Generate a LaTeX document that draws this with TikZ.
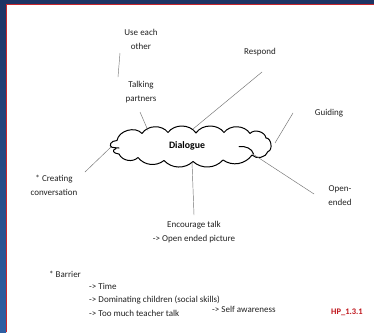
\documentclass[tikz,border=0pt]{standalone}
\usepackage{fontspec}
\setmainfont{Carlito}
\definecolor{navytop}{HTML}{1D3464}
\definecolor{navybot}{HTML}{2E5FA3}
\definecolor{edgered}{HTML}{C8262C}
\definecolor{labelred}{HTML}{C0161C}
\definecolor{inkgray}{HTML}{222222}
\tikzset{
  lbl/.style={font=\fontsize{9}{13.5}\selectfont, text=inkgray, align=center, inner sep=0pt},
  lbll/.style={font=\fontsize{9}{13.5}\selectfont, text=inkgray, align=left, anchor=west, inner sep=0pt},
  spoke/.style={draw=black!55, line width=0.45pt},
  outline/.style={draw=black, line width=1pt, line cap=round, line join=round},
  hub/.style={font=\fontsize{9.8}{11}\bfseries\selectfont, text=black, inner sep=0pt}
}
\begin{document}
\begin{tikzpicture}[x=1pt,y=-1pt]
  % page and frame
  \fill[white] (0,0) rectangle (374,332);
  \useasboundingbox (0,0) rectangle (374,332);
  \shade[top color=navytop, bottom color=navybot] (0,0) rectangle (6,332);
  \fill[navytop] (0,0) rectangle (374,4);
  \fill[edgered] (6,4) rectangle (7.2,332);
  \fill[edgered] (6,4) rectangle (374,5.2);

  % cloud outline: upper-left lobe, top puffs, right end, bottom puffs, lower-left lobe
  \draw[outline]
    (119,148) .. controls (116,147.8) and (113.5,147.6) .. (112,147.3)
    .. controls (108.5,146) and (110.5,140.5) .. (117,140.5)
    to[bend left=65] (142,133.5)
    to[bend left=55] (168,132.5)
    to[bend left=55] (196,133)
    to[bend left=55] (224,132.5)
    to[bend left=55] (250,133.5)
    to[bend left=65] (266,138)
    to[bend left=85] (268,151.5)
    to[bend left=60] (252,155)
    to[bend left=45] (223,160)
    to[bend left=45] (193,161.5)
    to[bend left=45] (164,160.5)
    to[bend left=45] (138,157.5)
    to[bend left=55] (119,154)
    .. controls (113,153.5) and (111.5,150) .. (116,148.6);
  % inner curl at the lower right
  \draw[outline] (239,146.5) .. controls (246,146) and (252,148.5) .. (253.5,154);

  \node[hub] (dlg) at (187,146) {Dialogue};

  % surrounding ideas
  \node[lbl] (use) at (141,39.5) {Use each\\other};
  \node[lbl] (talk) at (141,92) {Talking\\partners};
  \node[lbl] (resp) at (260,52) {Respond};
  \node[lbl] (guide) at (329,113) {Guiding};
  \node[lbl] (open) at (340,195.5) {Open-\\ended};
  \node[lbl] (enc) at (194,232) {Encourage talk\\-> Open ended picture};
  \node[lbl] (creat) at (54,185.5) {* Creating\\conversation};

  % barrier list
  \node[lbll] (bar) at (49,274) {* Barrier};
  \node[lbll] (bl) at (89,299.5) {-> Time\\-> Dominating children (social skills)\\-> Too much teacher talk};
  \node[lbll] (self) at (212,309) {-> Self awareness};
  \node[font=\fontsize{8.5}{10}\bfseries\selectfont, text=labelred, inner sep=0pt] (code) at (347,312) {HP\_1.3.1};

  % spoke end points
  \coordinate (useA) at (120,53);
  \coordinate (useB) at (118,77);
  \coordinate (talkA) at (140,112);
  \coordinate (talkB) at (148,130.5);
  \coordinate (respA) at (262,72);
  \coordinate (respB) at (193,129);
  \coordinate (guideA) at (293,113);
  \coordinate (guideB) at (275,143);
  \coordinate (creatA) at (85,172);
  \coordinate (creatB) at (111,147);
  \coordinate (encA) at (192,162);
  \coordinate (encB) at (194,215);
  \coordinate (openA) at (252,153.5);
  \coordinate (openB) at (314,194);

  \draw[spoke] (useA) -- (useB);
  \draw[spoke] (talkA) -- (talkB);
  \draw[spoke] (respA) -- (respB);
  \draw[spoke] (guideA) -- (guideB);
  \draw[spoke] (creatA) -- (creatB);
  \draw[spoke] (encA) -- (encB);
  \draw[spoke] (openA) -- (openB);
\end{tikzpicture}
\end{document}
